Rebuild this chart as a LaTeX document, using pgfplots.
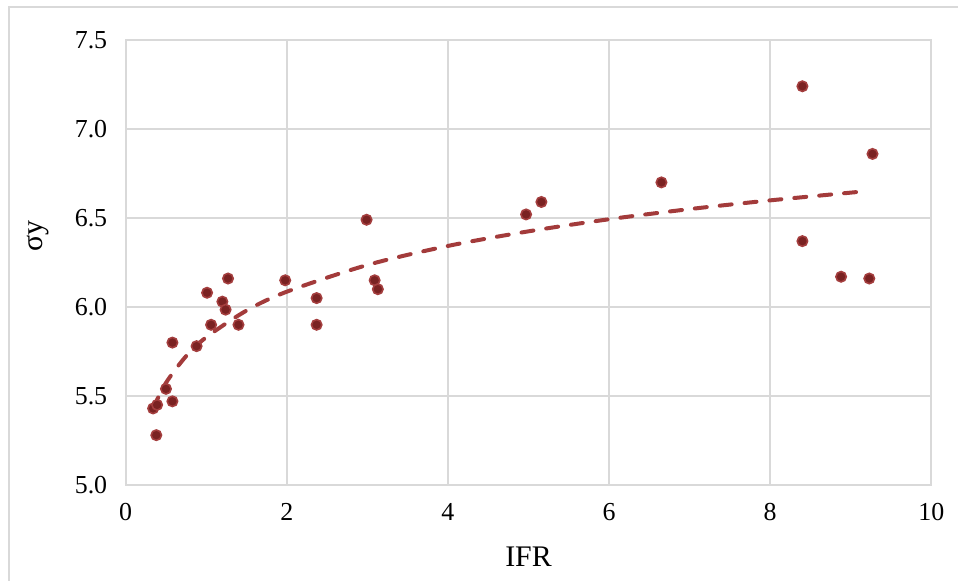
\documentclass[border=0pt]{standalone}
\usepackage{pgfplots}
\pgfplotsset{compat=1.18}
\usepackage{fontspec}
\setmainfont{Liberation Serif}
\definecolor{gridgray}{HTML}{D9D9D9}
\definecolor{markfill}{HTML}{7A2222}
\definecolor{markedge}{HTML}{A43E3E}
\definecolor{trend}{HTML}{A33B3B}
\begin{document}
\begin{tikzpicture}[x=1bp,y=1bp]
\path[use as bounding box] (0,0) rectangle (958,581);
\draw[gridgray, line width=2bp] (9,0) -- (9,574) -- (958,574);
\begin{axis}[
  at={(125.7bp,96bp)}, anchor=south west,
  scale only axis, width=805.6bp, height=445bp,
  xmin=0, xmax=10, ymin=5, ymax=7.5,
  xtick={0,2,4,6,8,10},
  ytick={5,5.5,6,6.5,7,7.5},
  grid=major,
  major grid style={gridgray, line width=2bp},
  axis line style={gridgray, line width=2bp},
  major tick length=0pt,
  /pgf/number format/assume math mode=true,
  yticklabel style={/pgf/number format/fixed, /pgf/number format/fixed zerofill, /pgf/number format/precision=1, xshift=-15bp},
  xticklabel style={yshift=-15bp},
  tick label style={font=\fontsize{26}{31}\selectfont, text=black},
  xlabel={IFR}, ylabel={σy},
  label style={font=\fontsize{30}{36}\selectfont},
  xlabel style={at={(axis description cs:0.5,-0.162)}, anchor=center},
  ylabel style={at={(axis description cs:-0.109,0.56)}, anchor=center},
]
\addplot[only marks, mark=*, mark size=5.2bp,
  mark options={fill=markfill, draw=markedge, line width=1.6bp}]
coordinates {
(0.34,5.43) (0.39,5.45) (0.38,5.28) (0.50,5.54) (0.58,5.47) (0.58,5.80)
(0.88,5.78) (1.06,5.90) (1.01,6.08) (1.27,6.16) (1.20,6.03) (1.24,5.985)
(1.40,5.90) (1.98,6.15) (2.37,6.05) (2.37,5.90) (2.99,6.49) (3.09,6.15)
(3.13,6.10) (4.97,6.52) (5.16,6.59) (6.65,6.70) (8.40,7.24) (9.27,6.86)
(8.40,6.37) (8.88,6.17) (9.23,6.16)
};
\addplot[trend, line width=4bp, smooth, line cap=round,
  dash pattern=on 12bp off 13bp]
coordinates {
(0.34,5.431) (0.5,5.574) (0.75,5.724) (1,5.830) (1.5,5.980) (2,6.086)
(3,6.236) (4,6.343) (5,6.425) (6,6.493) (7,6.550) (8,6.599) (9.2,6.651)
};
\end{axis}
\end{tikzpicture}
\end{document}
